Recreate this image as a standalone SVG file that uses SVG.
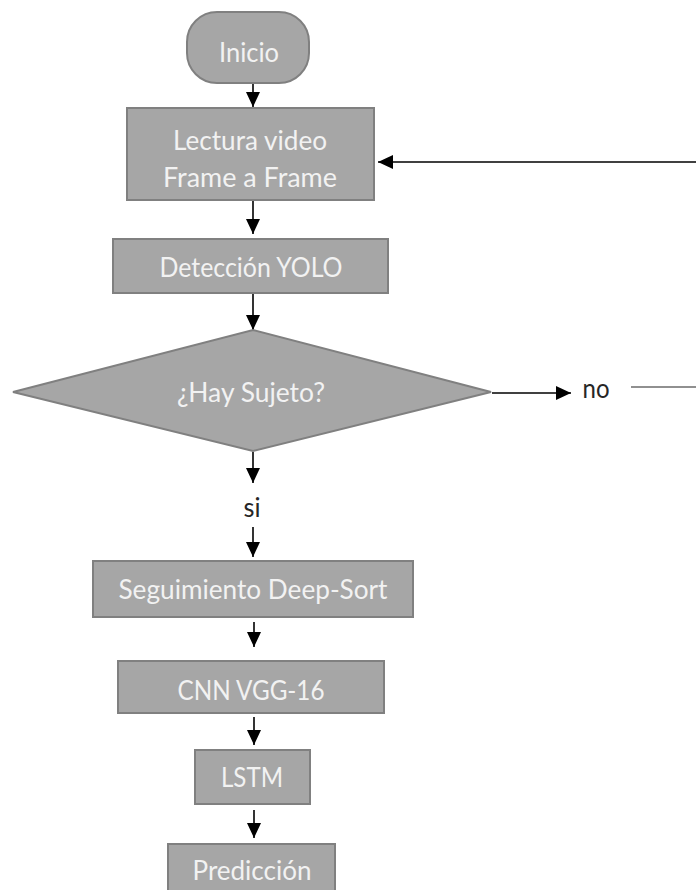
<svg xmlns="http://www.w3.org/2000/svg" width="696" height="890" viewBox="0 0 696 890">
<style>
.box{fill:#a6a6a6;stroke:#808080;stroke-width:2}
.lbl{font-family:Lato,"Open Sans","Liberation Sans",sans-serif;font-size:26px;fill:#f2f2f2;text-anchor:middle}
.blk{font-family:Lato,"Open Sans","Liberation Sans",sans-serif;font-size:26px;fill:#262626;text-anchor:middle}
.con{stroke:#000;stroke-width:1.6;fill:none}
</style>
<defs>
<marker id="ah" viewBox="0 0 15 14" refX="15" refY="7" markerWidth="15" markerHeight="14" markerUnits="userSpaceOnUse" orient="auto">
<path d="M0,0 L15,7 L0,14 z" fill="#000"/>
</marker>
</defs>
<rect width="696" height="890" fill="#fff"/>
<g id="connectors">
<line class="con" x1="253" y1="84" x2="253" y2="107" marker-end="url(#ah)"/>
<line class="con" x1="253" y1="201" x2="253" y2="234" marker-end="url(#ah)"/>
<line class="con" x1="253" y1="294" x2="253" y2="330" marker-end="url(#ah)"/>
<line class="con" x1="253" y1="452" x2="253" y2="483" marker-end="url(#ah)"/>
<line class="con" x1="253" y1="527" x2="253" y2="557" marker-end="url(#ah)"/>
<line class="con" x1="254" y1="622" x2="254" y2="647" marker-end="url(#ah)"/>
<line class="con" x1="254" y1="717" x2="254" y2="745" marker-end="url(#ah)"/>
<line class="con" x1="254" y1="810" x2="254" y2="838" marker-end="url(#ah)"/>
<line class="con" x1="492" y1="393" x2="571" y2="393" marker-end="url(#ah)"/>
<line x1="631" y1="387" x2="696" y2="387" stroke="#6b6b6b" stroke-width="1.6"/>
<line class="con" x1="696" y1="162" x2="378" y2="162" marker-end="url(#ah)"/>
</g>
<g id="inicio">
<rect class="box" x="187" y="12" width="122" height="71" rx="30" ry="30"/>
<text class="lbl" x="249" y="62" textLength="60" lengthAdjust="spacingAndGlyphs">Inicio</text>
</g>
<g id="lectura">
<rect class="box" x="127" y="108" width="247" height="92"/>
<text class="lbl" x="250" y="150" textLength="154" lengthAdjust="spacingAndGlyphs">Lectura video</text>
<text class="lbl" x="250" y="187" textLength="174" lengthAdjust="spacingAndGlyphs">Frame a Frame</text>
</g>
<g id="deteccion">
<rect class="box" x="113" y="239" width="275" height="54"/>
<text class="lbl" x="251" y="277" textLength="183" lengthAdjust="spacingAndGlyphs">Detección YOLO</text>
</g>
<g id="decision">
<polygon class="box" points="13,392 253,330 491,392 253,451"/>
<text class="lbl" x="251" y="402" font-size="27" textLength="148" lengthAdjust="spacingAndGlyphs">¿Hay Sujeto?</text>
</g>
<g id="label-no">
<text class="blk" x="596" y="398" textLength="27" lengthAdjust="spacingAndGlyphs">no</text>
</g>
<g id="label-si">
<text class="blk" x="252" y="517" textLength="17" lengthAdjust="spacingAndGlyphs">si</text>
</g>
<g id="seguimiento">
<rect class="box" x="93" y="561" width="320" height="56"/>
<text class="lbl" x="253" y="599" textLength="269" lengthAdjust="spacingAndGlyphs">Seguimiento Deep-Sort</text>
</g>
<g id="cnn">
<rect class="box" x="118" y="661" width="266" height="52"/>
<text class="lbl" x="251" y="700" textLength="147" lengthAdjust="spacingAndGlyphs">CNN VGG-16</text>
</g>
<g id="lstm">
<rect class="box" x="195" y="750" width="115" height="54"/>
<text class="lbl" x="252" y="787" textLength="62" lengthAdjust="spacingAndGlyphs">LSTM</text>
</g>
<g id="prediccion">
<rect class="box" x="168" y="844" width="167" height="60"/>
<text class="lbl" x="252" y="880" textLength="119" lengthAdjust="spacingAndGlyphs">Predicción</text>
</g>
</svg>
